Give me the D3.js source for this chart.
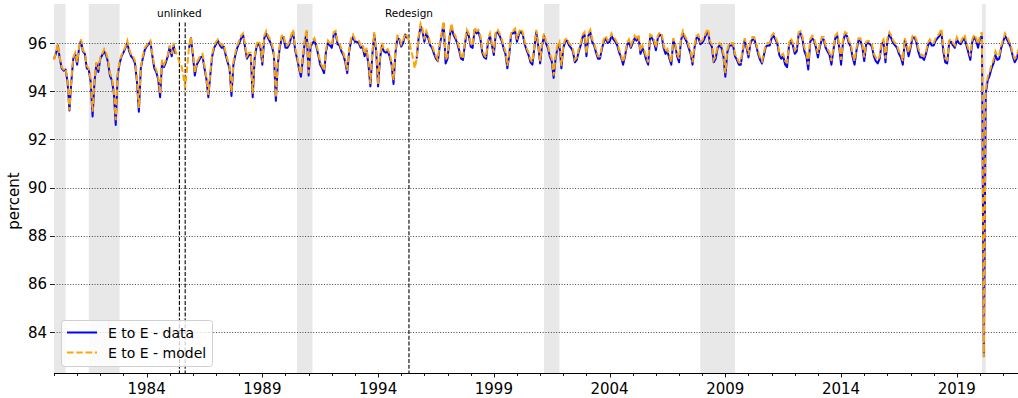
<!DOCTYPE html>
<html><head><meta charset="utf-8">
<script src="https://cdn.jsdelivr.net/npm/d3@7"></script>
<style>body{margin:0;background:#fff} svg{display:block} text{font-family:"DejaVu Sans",sans-serif;fill:#000}</style>
</head><body><svg id="c" width="1018" height="398"></svg>
<script>
// monthly series, first value = January 1980
const startYear = 1980;
const eeData = [
95.35,95.55,95.9,95.35,94.95,94.85,94.9,94.4,93.2,94.4,95.35,95.55,
95.1,95.8,96.1,95.65,95.55,94.95,94.9,94.4,92.95,94.4,95.15,94.8,
95.35,95.5,95.65,95.5,95.2,94.65,94.45,93.95,92.6,94.65,95.15,95.45,
95.6,95.8,96.0,95.65,95.45,95.35,95.15,94.4,93.15,94.95,95.35,95.7,
95.85,95.95,96.05,95.45,94.95,94.8,94.5,93.75,95.2,95.0,95.2,95.45,
95.85,95.45,95.9,95.55,null,null,null,null,null,null,95.8,96.2,
95.5,94.65,95.1,95.25,95.4,95.45,94.95,94.5,93.75,94.65,95.45,95.8,
95.95,96.1,95.9,95.8,95.85,95.5,95.2,94.95,93.8,95.1,95.5,95.8,
96.0,96.2,96.35,95.85,95.35,95.5,95.5,93.75,95.35,95.85,96.0,95.8,
95.1,96.2,96.4,96.2,96.05,95.85,95.5,93.6,95.1,95.8,96.2,96.25,
95.8,95.8,95.95,96.25,96.45,95.7,95.35,94.95,94.6,95.35,96.05,96.45,
94.65,95.85,96.0,96.1,95.85,95.5,95.1,94.95,94.75,95.65,96.0,95.9,
95.8,96.35,96.4,95.95,95.9,95.65,95.5,95.2,94.75,95.65,96.1,96.25,
96.05,96.05,96.0,95.8,95.85,95.45,95.7,95.1,94.2,95.5,96.35,95.65,
94.2,95.35,95.9,95.65,95.6,95.65,95.45,95.1,94.3,95.6,96.2,96.15,
95.85,96.0,96.35,96.2,null,null,null,null,95.35,96.2,96.7,96.5,
96.05,96.4,96.2,95.9,95.8,95.55,95.35,95.25,95.9,96.35,96.8,95.15,
95.35,96.2,96.7,96.35,96.2,96.0,95.7,95.35,95.3,95.95,96.45,96.3,
95.85,95.8,96.55,96.4,96.45,96.2,95.6,95.4,95.35,96.05,96.3,95.9,
95.5,96.4,96.45,96.3,96.1,95.8,95.55,94.95,95.5,96.4,96.4,96.5,
96.05,96.35,96.5,96.35,95.95,95.7,95.5,95.2,95.1,95.8,96.45,95.9,
95.15,95.9,96.3,96.0,95.8,95.45,95.25,94.55,95.35,95.8,95.95,94.95,
95.8,96.05,96.1,95.9,95.8,95.65,95.2,95.3,95.65,95.9,96.25,96.35,
95.45,96.3,96.45,96.05,95.9,95.6,95.35,95.35,95.75,96.05,96.2,96.0,
96.05,96.3,96.15,96.05,95.9,95.6,95.4,95.1,95.45,95.9,96.05,95.8,
96.0,96.2,96.1,96.25,95.55,95.8,95.6,95.3,95.1,96.25,96.2,96.05,
95.7,96.2,96.35,96.3,95.8,95.55,95.65,95.35,95.1,96.1,95.9,95.45,
95.2,96.1,96.4,96.2,96.05,95.8,95.55,95.1,95.8,96.2,96.25,95.95,
96.0,96.15,96.35,96.5,96.0,95.85,95.2,95.35,95.8,95.9,95.8,95.45,
94.6,95.6,95.9,95.9,95.9,95.45,95.3,95.1,95.1,95.65,96.1,95.8,
95.4,96.0,96.15,96.15,95.9,95.55,95.3,95.15,95.5,95.85,95.9,95.9,
96.2,96.3,96.15,95.95,95.5,95.35,95.45,95.1,95.0,95.9,96.1,95.9,
95.55,95.65,96.35,96.4,96.15,95.65,95.45,94.9,96.05,96.2,96.1,95.8,
95.4,95.85,96.15,96.15,95.8,95.65,95.5,95.1,95.7,96.2,96.3,95.85,
95.1,96.05,96.35,96.3,96.0,95.85,95.4,95.1,95.7,96.1,96.1,95.85,
95.25,95.95,96.0,95.95,95.85,95.45,95.25,95.15,95.35,95.95,96.05,95.2,
96.1,96.35,96.2,96.0,95.9,95.8,95.55,95.4,95.1,96.1,95.85,95.45,
95.8,96.2,96.25,96.05,95.65,95.4,95.4,95.3,95.55,95.9,96.05,95.9,
95.9,96.1,96.2,96.3,96.45,95.65,95.2,95.15,96.0,96.05,95.9,95.8,
96.15,96.0,95.95,96.1,96.2,95.9,95.6,95.3,96.05,96.25,96.1,95.8,
96.2,96.3,83.0,93.9,94.45,94.65,94.95,95.15,95.5,95.3,95.35,95.8,
96.05,96.3,96.15,96.0,95.8,95.45,95.2,95.35,95.65
];
const eeModel = [
95.3,95.6,95.95,95.4,95.0,94.9,94.95,94.45,93.2,94.5,95.4,95.6,
95.2,95.85,96.15,95.7,95.6,95.05,94.95,94.5,93.15,94.5,95.2,94.9,
95.4,95.55,95.75,95.6,95.3,94.75,94.55,94.05,92.8,94.75,95.25,95.5,
95.65,95.85,96.1,95.75,95.5,95.45,95.25,94.5,93.3,95.0,95.45,95.8,
95.9,96.0,96.1,95.55,95.05,94.9,94.6,93.9,95.3,95.1,95.3,95.5,
95.9,95.55,96.0,95.65,95.45,95.2,95.1,94.65,94.15,94.95,95.85,96.25,
95.6,94.75,95.2,95.35,95.5,95.55,95.05,94.6,93.85,94.75,95.55,95.9,
96.05,96.15,96.0,95.9,95.95,95.6,95.3,95.05,93.95,95.2,95.6,95.9,
96.1,96.3,96.4,95.95,95.45,95.6,95.6,93.9,95.45,95.95,96.1,95.9,
95.2,96.3,96.5,96.3,96.15,95.95,95.6,93.75,95.2,95.9,96.3,96.35,
95.9,95.9,96.05,96.35,96.55,95.8,95.45,95.05,94.7,95.45,96.15,96.55,
94.75,95.95,96.1,96.2,95.95,95.6,95.2,95.05,94.85,95.75,96.1,96.0,
95.9,96.45,96.5,96.05,96.0,95.75,95.6,95.3,94.85,95.75,96.2,96.35,
96.15,96.15,96.1,95.9,95.95,95.55,95.8,95.2,94.3,95.6,96.45,95.75,
94.3,95.45,96.0,95.75,95.7,95.75,95.55,95.2,94.45,95.7,96.3,96.25,
95.95,96.1,96.4,96.3,96.1,95.75,95.4,94.95,95.35,96.3,96.8,96.6,
96.15,96.5,96.3,96.0,95.9,95.65,95.45,95.3,96.0,96.45,96.9,95.3,
95.45,96.3,96.8,96.45,96.3,96.1,95.8,95.45,95.35,96.05,96.55,96.4,
95.95,95.9,96.65,96.5,96.55,96.3,95.7,95.5,95.4,96.15,96.4,96.0,
95.6,96.5,96.55,96.4,96.2,95.9,95.65,95.05,95.6,96.5,96.5,96.6,
96.15,96.45,96.6,96.45,96.05,95.8,95.6,95.3,95.2,95.9,96.55,96.0,
95.25,96.0,96.4,96.1,95.9,95.55,95.35,94.65,95.45,95.9,96.05,95.05,
95.9,96.15,96.2,96.0,95.9,95.75,95.3,95.4,95.75,96.0,96.35,96.45,
95.55,96.4,96.55,96.15,96.0,95.7,95.45,95.45,95.85,96.15,96.3,96.1,
96.15,96.4,96.25,96.15,96.0,95.7,95.5,95.2,95.55,96.0,96.15,95.9,
96.1,96.3,96.2,96.35,95.65,95.9,95.7,95.4,95.2,96.35,96.3,96.15,
95.8,96.3,96.45,96.4,95.9,95.65,95.75,95.45,95.2,96.2,96.0,95.55,
95.35,96.2,96.5,96.3,96.15,95.9,95.65,95.2,95.9,96.3,96.35,96.05,
96.1,96.25,96.45,96.6,96.1,95.95,95.3,95.45,95.9,96.0,95.9,95.55,
94.75,95.7,96.0,96.0,96.0,95.55,95.4,95.2,95.2,95.75,96.2,95.9,
95.5,96.1,96.25,96.25,96.0,95.65,95.4,95.25,95.6,95.95,96.0,96.0,
96.3,96.4,96.25,96.05,95.6,95.5,95.55,95.25,95.2,96.0,96.2,96.0,
95.7,95.8,96.45,96.5,96.25,95.8,95.6,95.1,96.15,96.3,96.2,95.9,
95.55,95.95,96.25,96.25,95.9,95.75,95.6,95.25,95.8,96.3,96.4,95.95,
95.3,96.15,96.45,96.4,96.1,95.95,95.55,95.25,95.8,96.2,96.2,95.95,
95.4,96.05,96.1,96.05,95.95,95.55,95.4,95.3,95.45,96.05,96.15,95.35,
96.2,96.45,96.3,96.1,96.0,95.9,95.65,95.55,95.25,96.2,95.95,95.6,
95.9,96.3,96.35,96.15,95.8,95.55,95.5,95.45,95.65,96.0,96.15,96.0,
96.0,96.2,96.3,96.4,96.6,95.8,95.35,95.3,96.1,96.15,96.0,95.9,
96.25,96.1,96.05,96.2,96.35,96.0,95.75,95.45,96.15,96.35,96.2,95.95,
96.3,96.45,82.95,94.1,94.6,94.8,95.1,95.3,95.65,95.45,95.5,95.9,
96.15,96.4,96.25,96.1,95.9,95.55,95.35,95.45,95.75
];
const seriesNames = ["E to E - data", "E to E - model"];
const seriesColors = ["blue", "orange"];
const recessions = [["1980-01","1980-07"],["1981-07","1982-11"],["1990-07","1991-03"],["2001-03","2001-11"],["2007-12","2009-06"],["2020-02","2020-04"]];
const events = [["1985-06","unlinked"],["1985-09",""],["1995-05","Redesign"]];
const yTicks = [84, 86, 88, 90, 92, 94, 96];
const xMajorYears = [1984, 1989, 1994, 1999, 2004, 2009, 2014, 2019];
const xMinorYears = d3.range(1980, 2022);

const svg = d3.select("#c");
const L = 54, R = 1020.5, T = 4, B = 373;
const x = d3.scaleLinear().domain([1980, 2021.75]).range([L, R]);
const y = d3.scaleLinear().domain([82.3, 97.62]).range([B, T]);
const dec = s => { const [a, b] = s.split("-").map(Number); return a + (b - 1) / 12; };
const tOf = i => startYear + i / 12;

// recession shading
svg.append("g").selectAll("rect").data(recessions).join("rect")
  .attr("x", d => x(dec(d[0]))).attr("width", d => x(dec(d[1])) - x(dec(d[0])))
  .attr("y", T).attr("height", B - T).attr("fill", "#e8e8e8");

// grid
svg.append("g").selectAll("line").data(yTicks).join("line")
  .attr("x1", L).attr("x2", 1018).attr("y1", d => Math.round(y(d)) + 0.5).attr("y2", d => Math.round(y(d)) + 0.5)
  .attr("stroke", "#333").attr("stroke-width", 0.9).attr("stroke-dasharray", "1,1.7");

// event lines
const eg = svg.append("g");
eg.selectAll("line").data(events).join("line")
  .attr("x1", d => x(dec(d[0]))).attr("x2", d => x(dec(d[0])))
  .attr("y1", y(96.85)).attr("y2", B)
  .attr("stroke", "#000").attr("stroke-width", 1.1).attr("stroke-dasharray", "4,1.8");
eg.selectAll("text").data(events.filter(d => d[1])).join("text")
  .attr("x", d => x(dec(d[0]))).attr("y", 17).attr("text-anchor", "middle")
  .attr("font-size", 10.5).text(d => d[1]);

// series
const line = d3.line().defined(d => d[1] != null).x(d => x(d[0])).y(d => y(d[1]));
const dataPts = eeData.map((v, i) => [tOf(i), v]);
const modelPts = eeModel.map((v, i) => [tOf(i), v]);
svg.append("path").datum(dataPts).attr("d", line).attr("fill", "none")
  .attr("stroke", seriesColors[0]).attr("stroke-width", 2).attr("stroke-linejoin", "round");
svg.append("path").datum(modelPts).attr("d", line).attr("fill", "none")
  .attr("stroke", seriesColors[1]).attr("stroke-width", 2).attr("stroke-dasharray", "6.5,2.8");

// bottom axis
const ax = svg.append("g");
ax.append("line").attr("x1", L).attr("x2", 1018).attr("y1", B + 0.5).attr("y2", B + 0.5).attr("stroke", "#000").attr("stroke-width", 1.2);
ax.selectAll("line.mi").data(xMinorYears).join("line").attr("class", "mi")
  .attr("x1", d => Math.round(x(d)) + 0.5).attr("x2", d => Math.round(x(d)) + 0.5)
  .attr("y1", B).attr("y2", d => xMajorYears.includes(d) ? B + 4.5 : B + 3).attr("stroke", "#000").attr("stroke-width", 0.9);
ax.selectAll("text").data(xMajorYears).join("text")
  .attr("x", d => x(d)).attr("y", 394).attr("text-anchor", "middle").attr("font-size", 15).text(d => d);

// y axis ticks
const ay = svg.append("g");
ay.selectAll("line").data(yTicks).join("line")
  .attr("x1", L - 4).attr("x2", L).attr("y1", d => Math.round(y(d)) + 0.5).attr("y2", d => Math.round(y(d)) + 0.5)
  .attr("stroke", "#000").attr("stroke-width", 0.9);
ay.selectAll("text").data(yTicks).join("text")
  .attr("x", L - 7).attr("y", d => y(d) + 5.5).attr("text-anchor", "end").attr("font-size", 15).text(d => d);
svg.append("text").attr("transform", "translate(19,201) rotate(-90)").attr("text-anchor", "middle")
  .attr("font-size", 15).text("percent");

// legend
const lg = svg.append("g");
lg.append("rect").attr("x", 61.5).attr("y", 320.5).attr("width", 151).attr("height", 46).attr("rx", 3)
  .attr("fill", "#fff").attr("fill-opacity", 0.8).attr("stroke", "#d0d0d0");
seriesNames.forEach((n, i) => {
  const yy = 332.5 + i * 20;
  lg.append("line").attr("x1", 67).attr("x2", 97).attr("y1", yy).attr("y2", yy)
    .attr("stroke", seriesColors[i]).attr("stroke-width", 2).attr("stroke-dasharray", i ? "6.5,2.8" : null);
  lg.append("text").attr("x", 108).attr("y", yy + 5).attr("font-size", 14).text(n);
});
</script></body></html>
